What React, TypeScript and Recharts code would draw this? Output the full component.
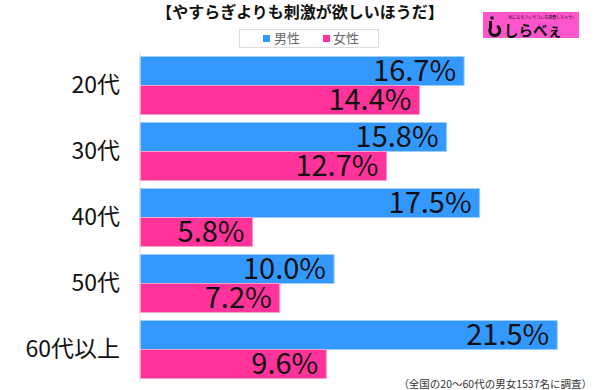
import React from 'react';
import { BarChart, Bar, XAxis, YAxis, LabelList } from 'recharts';

const categories = ['20代', '30代', '40代', '50代', '60代以上'];
const male = [16.7, 15.8, 17.5, 10.0, 21.5];
const female = [14.4, 12.7, 5.8, 7.2, 9.6];

const data = categories.map((name, i) => ({ name, male: male[i], female: female[i] }));

const FONT = '"Noto Sans CJK JP", "Noto Sans", sans-serif';
const BLUE = '#3399FF';
const PINK = '#FF3399';

const fmt = (v: any) => `${Number(v).toFixed(1)}%`;

const App: React.FC = () => {
  return (
    <div style={{ position: 'absolute', left: 0, top: 0, width: 600, height: 390, fontFamily: FONT, background: '#fff' }}>
      <BarChart
        width={600}
        height={390}
        data={data}
        layout="vertical"
        margin={{ top: 52, right: 33, bottom: 8, left: 0 }}
        barGap={0}
        barCategoryGap={4.5}
        style={{ fontFamily: FONT }}
      >
        <XAxis type="number" domain={[0, 22]} hide />
        <YAxis
          type="category"
          dataKey="name"
          width={140}
          tickLine={false}
          axisLine={{ stroke: '#ddd' }}
          tick={{ fill: '#111', fontSize: 23 }}
          tickMargin={14}
        />
        <Bar dataKey="male" fill={BLUE} stroke="#9fcdfc" strokeWidth={1} isAnimationActive={false}>
          <LabelList dataKey="male" position="insideRight" offset={8} formatter={fmt} fill="#111" fontSize={29} />
        </Bar>
        <Bar dataKey="female" fill={PINK} stroke="#fb9fcb" strokeWidth={1} isAnimationActive={false}>
          <LabelList dataKey="female" position="insideRight" offset={8} formatter={fmt} fill="#111" fontSize={29} />
        </Bar>
      </BarChart>
      <svg width={600} height={390} style={{ position: 'absolute', left: 0, top: 0, pointerEvents: 'none' }}>
        <text x={300} y={18} textAnchor="middle" fontSize={16} fontWeight="bold" fill="#111" fontFamily={FONT}>
          【やすらぎよりも刺激が欲しいほうだ】
        </text>
        <rect x={239.5} y={29.5} width={139} height={18} fill="#fff" stroke="#ddd" />
        <rect x={263} y={35} width={7} height={7} fill={BLUE} />
        <text x={274} y={43} fontSize={13} fill="#666" fontFamily={FONT}>男性</text>
        <rect x={323} y={35} width={7} height={7} fill={PINK} />
        <text x={333} y={43} fontSize={13} fill="#666" fontFamily={FONT}>女性</text>
        <rect x={483} y={12} width={96} height={26} fill="#FF55CC" />
        <circle cx={492} cy={18} r={1.8} fill="#111" />
        <path d="M490.5 21 L490.5 28 A5 5 0 1 0 497 26" stroke="#111" strokeWidth={3} fill="none" />
        <text x={541} y={19} textAnchor="middle" fontSize={4} fill="#111" fontFamily={FONT}>気になるアレやコレを調査しちゃう!</text>
        <text x={504} y={35.5} fontSize={14.5} fontWeight="bold" fill="#111" fontFamily={FONT}>しらべぇ</text>
        <text x={592} y={388} textAnchor="end" fontSize={10.5} fill="#333" fontFamily={FONT}>（全国の20～60代の男女1537名に調査）</text>
      </svg>
    </div>
  );
};

export default App;
